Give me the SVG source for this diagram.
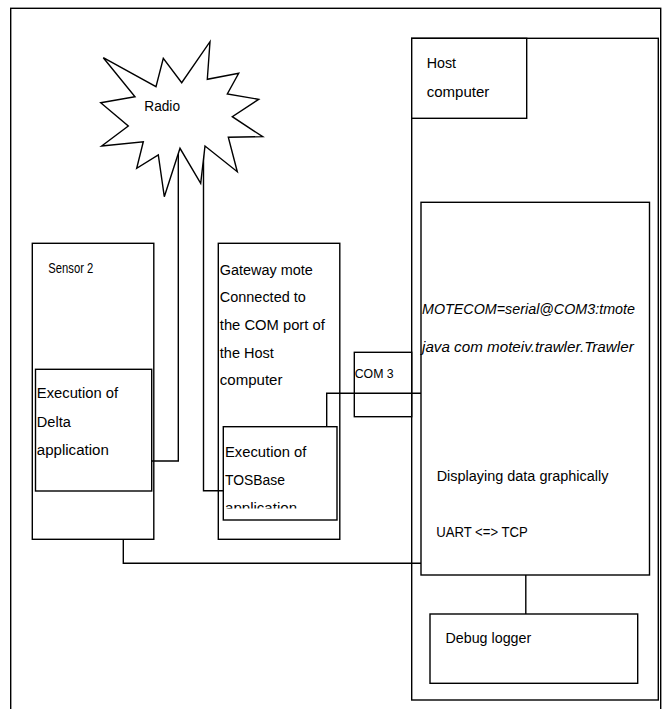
<svg xmlns="http://www.w3.org/2000/svg" width="663" height="709" viewBox="0 0 663 709">
<style>
.b{fill:#fff;stroke:#000;stroke-width:1.4}
.n{fill:none;stroke:#000;stroke-width:1.4}
.t{font-family:"Liberation Sans",Arial,sans-serif;font-size:15.5px;fill:#000}
.i{font-style:italic}
.s{font-size:13px}
</style>
<defs>
<clipPath id="tosclip"><rect x="223" y="427" width="114" height="81.5"/></clipPath>
</defs>
<rect id="frame" class="n" x="10.7" y="8.3" width="650" height="720"/>
<g id="host">
<rect class="b" x="411.7" y="38.3" width="246.6" height="661.7"/>
<rect class="b" x="411.7" y="38.3" width="115" height="80"/>
<text class="t" x="426.7" y="68" textLength="29.3" lengthAdjust="spacingAndGlyphs">Host</text>
<text class="t" x="426.7" y="97" textLength="62.7" lengthAdjust="spacingAndGlyphs">computer</text>
</g>
<g id="trawler">
<rect class="b" x="421" y="202.3" width="228.5" height="372.7"/>
<text class="t i" x="422" y="314" textLength="213" lengthAdjust="spacingAndGlyphs">MOTECOM=serial@COM3:tmote</text>
<text class="t i" x="422" y="351.5" textLength="211.7" lengthAdjust="spacingAndGlyphs">java com moteiv.trawler.Trawler</text>
<text class="t" x="436.7" y="481" textLength="171.7" lengthAdjust="spacingAndGlyphs">Displaying data graphically</text>
<text class="t" x="436.2" y="536.5" textLength="91.6" lengthAdjust="spacingAndGlyphs">UART &lt;=&gt; TCP</text>
</g>
<g id="debug">
<rect class="b" x="430" y="614" width="207.7" height="69.3"/>
<text class="t" x="445.5" y="643" textLength="85.7" lengthAdjust="spacingAndGlyphs">Debug logger</text>
</g>
<g id="com3">
<rect class="b" x="354.3" y="352.3" width="57.4" height="64.4"/>
<text class="t s" x="354.7" y="378.3" textLength="39" lengthAdjust="spacingAndGlyphs">COM 3</text>
</g>
<g id="sensor2">
<rect class="b" x="32.3" y="243.3" width="121.5" height="296"/>
<text class="t" x="48.3" y="272.5" textLength="45" lengthAdjust="spacingAndGlyphs">Sensor 2</text>
</g>
<g id="delta">
<rect class="b" x="35.5" y="369.3" width="116.2" height="121.7"/>
<text class="t" x="36.8" y="398.3" textLength="81.3" lengthAdjust="spacingAndGlyphs">Execution of</text>
<text class="t" x="36.8" y="426.7" textLength="34" lengthAdjust="spacingAndGlyphs">Delta</text>
<text class="t" x="36.8" y="455" textLength="72" lengthAdjust="spacingAndGlyphs">application</text>
</g>
<g id="gateway">
<rect class="b" x="218.3" y="243.3" width="121.5" height="296"/>
<text class="t" x="219.8" y="275" textLength="93" lengthAdjust="spacingAndGlyphs">Gateway mote</text>
<text class="t" x="219.8" y="302" textLength="86" lengthAdjust="spacingAndGlyphs">Connected to</text>
<text class="t" x="219.8" y="330" textLength="105" lengthAdjust="spacingAndGlyphs">the COM port of</text>
<text class="t" x="219.8" y="358.3" textLength="54" lengthAdjust="spacingAndGlyphs">the Host</text>
<text class="t" x="219.8" y="385" textLength="62.7" lengthAdjust="spacingAndGlyphs">computer</text>
</g>
<g id="tosbase">
<rect class="b" x="223.3" y="426.7" width="113.7" height="93.3"/>
<g clip-path="url(#tosclip)">
<text class="t" x="225" y="456.7" textLength="81.3" lengthAdjust="spacingAndGlyphs">Execution of</text>
<text class="t" x="225" y="485" textLength="60" lengthAdjust="spacingAndGlyphs">TOSBase</text>
<text class="t" x="225" y="513.3" textLength="72" lengthAdjust="spacingAndGlyphs">application</text>
</g>
</g>
<g id="connectors">
<polyline class="n" points="178.3,150 178.3,461 151.7,461"/>
<polyline class="n" points="203.5,150 203.5,490.7 223.3,490.7"/>
<polyline class="n" points="326.7,426.7 326.7,393.3 421,393.3"/>
<polyline class="n" points="123.3,539.3 123.3,563.3 421,563.3"/>
<line class="n" x1="525.8" y1="575" x2="525.8" y2="614"/>
</g>
<g id="radio">
<polygon class="b" points="103.3,57.7 156,86.7 163.3,58.3 181.7,82.7 210,41.7 207.3,79.3 238.7,73.3 227.3,94 258.7,99.3 232.3,116.7 262.7,136.7 228.3,137.3 237.3,171.7 205,146 200.7,183.3 180,148.3 164.3,196.7 158.3,155 136.7,168.3 143.3,141.7 101.7,146 128.3,126 100.7,102.7 135,96.7"/>
<text class="t" x="144.3" y="110.7" textLength="35.7" lengthAdjust="spacingAndGlyphs">Radio</text>
</g>
</svg>
